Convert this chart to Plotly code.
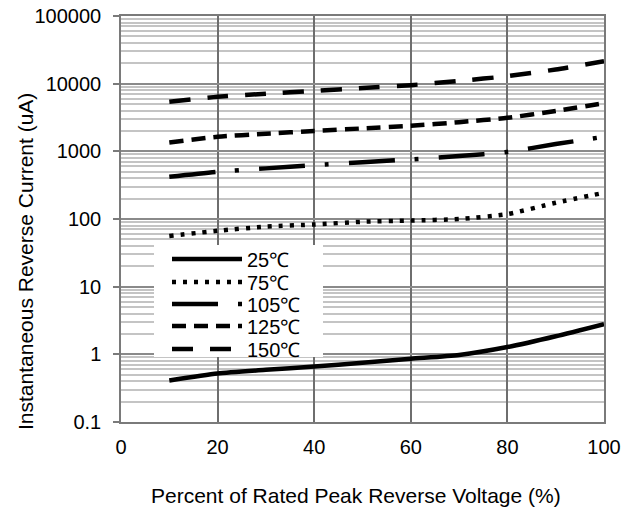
import plotly.graph_objects as go

x_pct = [10, 20, 30, 40, 50, 60, 70, 80, 90, 100]
i_25 = [0.41, 0.52, 0.59, 0.66, 0.75, 0.86, 0.98, 1.28, 1.85, 2.8]
i_75 = [56, 67, 77, 83, 91, 95, 100, 118, 174, 244]
i_105 = [420, 498, 560, 625, 690, 760, 850, 980, 1280, 1640]
i_125 = [1350, 1640, 1820, 2000, 2180, 2380, 2700, 3130, 3950, 5150]
i_150 = [5400, 6400, 7100, 7800, 8600, 9500, 11000, 12900, 16200, 21500]
names = ["25℃", "75℃", "105℃", "125℃", "150℃"]
y_tickvals = [0.1, 1, 10, 100, 1000, 10000, 100000]
y_ticktext = ["0.1", "1", "10", "100", "1000", "10000", "100000"]
x_tickvals = [0, 20, 40, 60, 80, 100]

series = [i_25, i_75, i_105, i_125, i_150]
dashes = ["solid", "4px,7px", "46px,20px,4px,20px", "14px,8px", "21px,17px"]

W, H = 635, 511
ML, MR, MT, MB = 121, 31, 16, 89
PW, PH = W - ML - MR, H - MT - MB
X0, Y0 = ML, MT
Y_LOG_MIN, Y_LOG_MAX = -1, 5
X_MIN, X_MAX = 0, 100


def px_x(px):
    return (px - X0) / PW


def px_y(py):
    return (Y0 + PH - py) / PH


def px_to_xdata(px):
    return X_MIN + px_x(px) * (X_MAX - X_MIN)


def px_to_ydata(py):
    return 10 ** (Y_LOG_MIN + px_y(py) * (Y_LOG_MAX - Y_LOG_MIN))


FONT = "Liberation Sans, Arial, sans-serif"
fig = go.Figure()
legend_ids = ["legend", "legend2", "legend3", "legend4", "legend5"]
legend_centers = [259, 282, 304, 326, 349]
for nm, ys, ds, lid in zip(names, series, dashes, legend_ids):
    fig.add_trace(go.Scatter(x=x_pct, y=ys, name=nm, mode="lines", legend=lid,
                             line=dict(color="black", width=4.5, dash=ds,
                                       shape="spline", smoothing=0.6)))

legend_common = dict(xanchor="left", yanchor="middle", bgcolor="rgba(0,0,0,0)",
                     borderwidth=0, itemwidth=70, font=dict(size=20, family=FONT))
layout_legends = {}
for lid, cy in zip(legend_ids, legend_centers):
    layout_legends[lid] = dict(x=px_x(167), y=px_y(cy), **legend_common)

fig.update_layout(
    width=W, height=H,
    margin=dict(l=ML, r=MR, t=MT, b=MB),
    paper_bgcolor="white", plot_bgcolor="white",
    font=dict(family=FONT, size=20, color="black"),
    showlegend=True,
    xaxis=dict(range=[X_MIN, X_MAX], tickvals=x_tickvals, showgrid=True, automargin=False,
               gridcolor="#6e6e6e", gridwidth=1.5, zeroline=False,
               showline=True, linecolor="#7a7a7a", linewidth=1.5, mirror=True,
               ticks="", ticklabelstandoff=6, tickfont=dict(size=20),
               ticklabeloverflow="allow"),
    yaxis=dict(type="log", range=[Y_LOG_MIN, Y_LOG_MAX], tickvals=y_tickvals, ticktext=y_ticktext,
               automargin=False, ticklabeloverflow="allow",
               showgrid=True, gridcolor="#8a8a8a", gridwidth=1.5, zeroline=False,
               showline=True, linecolor="#7a7a7a", linewidth=1.5, mirror=True,
               ticks="outside", ticklen=6, tickcolor="#7a7a7a", tickwidth=1.5,
               ticklabelstandoff=8, tickfont=dict(size=20),
               minor=dict(dtick="D1", showgrid=True, gridcolor="#c4c4c4",
                          gridwidth=1.5, ticks="")),
    shapes=[dict(type="rect", xref="x", yref="y",
                 x0=px_to_xdata(154), x1=px_to_xdata(323),
                 y0=px_to_ydata(357), y1=px_to_ydata(245),
                 fillcolor="white", line=dict(width=0), layer="between")],
    annotations=[
        dict(text="Percent of Rated Peak Reverse Voltage (%)", xref="paper", yref="paper",
             x=px_x(356), y=px_y(495), xanchor="center", yanchor="middle", showarrow=False,
             font=dict(size=21)),
        dict(text="Instantaneous Reverse Current (uA)", xref="paper", yref="paper",
             x=px_x(25), y=px_y(262), xanchor="center", yanchor="middle", showarrow=False,
             textangle=-90, font=dict(size=21)),
    ],
    **layout_legends,
)
fig.write_html("out.html", config={"displayModeBar": False},
               post_script="document.body.style.margin='0';document.body.style.padding='0';")
